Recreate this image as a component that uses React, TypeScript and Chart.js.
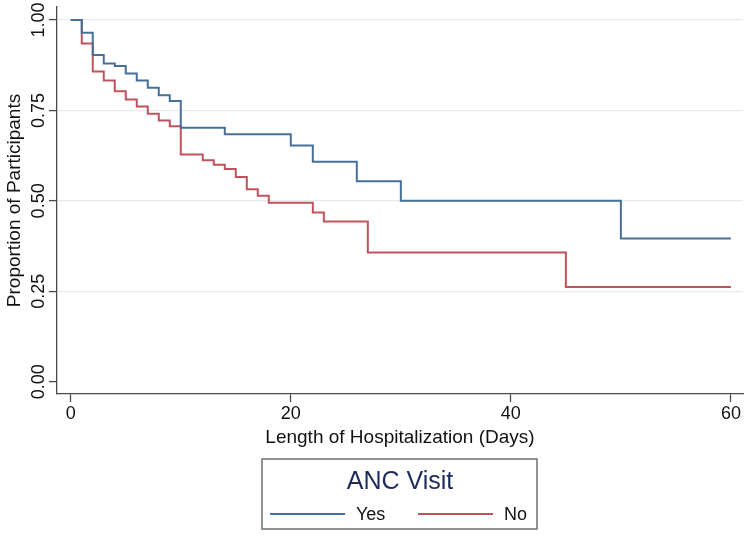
import React, { useEffect, useRef } from "react";
import { Chart, registerables } from "chart.js";

Chart.register(...registerables);

const yesDays = [0, 1, 2, 3, 4, 5, 6, 7, 8, 9, 10, 14, 20, 22, 26, 30, 50, 60];
const yesSurvival = [1, 0.965, 0.903, 0.88, 0.873, 0.852, 0.833, 0.813, 0.792, 0.776, 0.702, 0.684, 0.653, 0.608, 0.554, 0.5, 0.396, 0.396];

const noDays = [0, 1, 2, 3, 4, 5, 6, 7, 8, 9, 10, 12, 13, 14, 15, 16, 17, 18, 22, 23, 27, 45, 60];
const noSurvival = [1, 0.935, 0.858, 0.833, 0.803, 0.78, 0.761, 0.741, 0.722, 0.706, 0.628, 0.612, 0.6, 0.588, 0.566, 0.532, 0.514, 0.495, 0.468, 0.443, 0.357, 0.262, 0.262];

const seriesLabels = ["Yes", "No"];
const legendTitle = "ANC Visit";
const xTickValues = [0, 20, 40, 60];
const yTickValues = [0, 0.25, 0.5, 0.75, 1];
const yTickLabels = ["0.00", "0.25", "0.50", "0.75", "1.00"];
const xTitle = "Length of Hospitalization (Days)";
const yTitle = "Proportion of Participants";

const FONT = "'Liberation Sans', Arial, Helvetica, sans-serif";
const BLUE = "#46709a";
const RED = "#c0525c";
const AXIS = "#4a4a4a";

const overlayPlugin = {
  id: "overlay",
  afterDraw(chart: any) {
    const ctx = chart.ctx;
    const y = chart.scales.y;
    ctx.save();
    ctx.fillStyle = "#111";
    ctx.font = `18px ${FONT}`;
    ctx.textAlign = "center";
    ctx.textBaseline = "alphabetic";
    yTickValues.forEach((v, i) => {
      const py = y.getPixelForValue(v);
      ctx.save();
      ctx.translate(44, py);
      ctx.rotate(-Math.PI / 2);
      ctx.fillText(yTickLabels[i], 0, 0);
      ctx.restore();
    });
    // legend box
    const bx = 262, by = 459, bw = 275, bh = 70;
    ctx.strokeStyle = "#707070";
    ctx.lineWidth = 1.5;
    ctx.strokeRect(bx, by, bw, bh);
    ctx.fillStyle = "#1c2a5c";
    ctx.font = `25px ${FONT}`;
    ctx.textBaseline = "middle";
    ctx.textAlign = "center";
    ctx.fillText(legendTitle, 400, 482);
    const items = chart.data.datasets.map((d: any, i: number) => ({
      label: seriesLabels[i],
      color: d.borderColor,
    }));
    const lineStarts = [270, 418];
    ctx.font = `18px ${FONT}`;
    ctx.textAlign = "left";
    items.forEach((it: any, i: number) => {
      const lx = lineStarts[i];
      const ly = 514;
      ctx.strokeStyle = it.color;
      ctx.lineWidth = 2;
      ctx.beginPath();
      ctx.moveTo(lx, ly);
      ctx.lineTo(lx + 75, ly);
      ctx.stroke();
      ctx.fillStyle = "#111";
      ctx.fillText(it.label, lx + 86, ly + 1);
    });
    ctx.restore();
  },
};

export default function App() {
  const ref = useRef<HTMLCanvasElement | null>(null);
  useEffect(() => {
    document.body.style.margin = "0";
    const canvas = ref.current;
    if (!canvas) return;
    const chart = new Chart(canvas, {
      type: "line",
      data: {
        datasets: [
          {
            label: seriesLabels[0],
            data: yesDays.map((d, i) => ({ x: d, y: yesSurvival[i] })),
            borderColor: BLUE,
            borderWidth: 2,
            pointRadius: 0,
            stepped: true,
            fill: false,
          },
          {
            label: seriesLabels[1],
            data: noDays.map((d, i) => ({ x: d, y: noSurvival[i] })),
            borderColor: RED,
            borderWidth: 2,
            pointRadius: 0,
            stepped: true,
            fill: false,
          },
        ],
      },
      options: {
        animation: false,
        responsive: false,
        devicePixelRatio: 1,
        layout: { padding: { left: 0, right: 7, top: 7, bottom: 0 } },
        plugins: {
          legend: { display: false },
          tooltip: { enabled: false },
        },
        scales: {
          x: {
            type: "linear",
            min: -1.25,
            max: 61.1,
            afterBuildTicks: (s: any) => {
              s.ticks = xTickValues.map((v) => ({ value: v }));
            },
            afterFit: (s: any) => {
              s.height = 142;
            },
            grid: {
              drawOnChartArea: false,
              drawTicks: true,
              tickLength: 8,
              tickColor: AXIS,
              tickWidth: 1.3,
            },
            border: { display: true, color: AXIS, width: 1.3 },
            ticks: {
              color: "#111",
              font: { family: FONT, size: 18 },
              padding: 1,
              maxRotation: 0,
              minRotation: 0,
              callback: (v: any) => String(v),
            },
            title: {
              display: true,
              text: xTitle,
              color: "#111",
              font: { family: FONT, size: 19 },
              padding: { top: 0, bottom: 87 },
            },
          },
          y: {
            type: "linear",
            min: -0.034,
            max: 1.036,
            afterBuildTicks: (s: any) => {
              s.ticks = yTickValues.map((v) => ({ value: v }));
            },
            afterFit: (s: any) => {
              s.width = 57;
            },
            grid: {
              color: (c: any) => (c.tick && c.tick.value === 0 ? "rgba(0,0,0,0)" : "#e6eaee"),
              lineWidth: 1.2,
              drawTicks: true,
              tickLength: 8,
              tickColor: AXIS,
              tickWidth: 1.3,
            },
            border: { display: true, color: AXIS, width: 1.3 },
            ticks: {
              display: false,
            },
            title: {
              display: true,
              text: yTitle,
              color: "#111",
              font: { family: FONT, size: 19 },
              padding: { top: 3, bottom: 0 },
            },
          },
        },
      },
      plugins: [overlayPlugin],
    });
    return () => chart.destroy();
  }, []);
  return (
    <div style={{ width: 750, height: 536 }}>
      <canvas ref={ref} width={750} height={536} style={{ display: "block" }} />
    </div>
  );
}
